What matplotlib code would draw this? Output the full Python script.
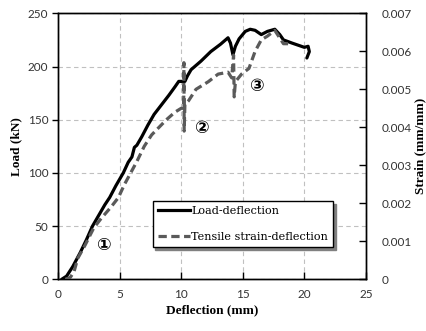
import matplotlib
matplotlib.use("Agg")
import matplotlib.pyplot as plt
from matplotlib.lines import Line2D

# Load-deflection data
load_defl = [0.3, 0.7, 1.2, 1.8, 2.3, 2.8, 3.3, 3.8, 4.2, 4.7, 5.3, 5.7, 6.0, 6.2, 6.4, 6.8,
             7.3, 7.8, 8.4, 9.0, 9.5, 9.8, 10.3, 10.5, 10.8, 11.6, 12.4, 13.2, 13.8,
             14.0, 14.2, 14.4, 14.7, 15.2, 15.6, 16.0, 16.5, 17.0, 17.6, 18.0, 18.3,
             19.0, 19.5, 20.0, 20.3, 20.4, 20.2]
load_kN = [0, 3, 12, 25, 37, 50, 60, 70, 77, 88, 100, 110, 115, 124, 126, 134,
           145, 155, 164, 173, 181, 186, 186, 191, 197, 205, 214, 221, 227,
           222, 211, 219, 226, 233, 235, 234, 230, 233, 235, 230, 225,
           222, 220, 218, 219, 214, 208]

# Tensile strain-deflection data
strain_defl = [0.6, 1.0, 1.3, 1.6, 2.2, 2.9, 3.5, 4.3, 4.9, 5.4, 5.9, 6.4, 7.0, 7.6,
               8.2, 8.8, 9.5, 10.0, 10.2, 10.22, 10.24, 10.3, 10.6, 11.2, 12.2, 13.0,
               13.8, 14.1, 14.25, 14.3, 14.4, 14.9, 15.5, 16.0, 16.5, 17.0, 17.6,
               17.9, 18.3, 18.7]
strain = [0.0, 0.00005, 0.0002, 0.00055, 0.0009, 0.00135, 0.0016, 0.0019, 0.00215,
          0.0025, 0.0028, 0.0031, 0.0035, 0.0038, 0.0040, 0.0042, 0.0044, 0.0045,
          0.0045, 0.0057, 0.0039, 0.0046, 0.0047, 0.0050, 0.0052, 0.0054, 0.00545,
          0.0053, 0.0059, 0.0048, 0.0052, 0.0054, 0.00555, 0.0060, 0.0063, 0.0064,
          0.00655, 0.0064, 0.0062, 0.0062]

x_ticks = [0, 5, 10, 15, 20, 25]
load_ticks = [0, 50, 100, 150, 200, 250]
strain_ticks = [0, 0.001, 0.002, 0.003, 0.004, 0.005, 0.006, 0.007]
strain_labels = ["0", "0.001", "0.002", "0.003", "0.004", "0.005", "0.006", "0.007"]
series_labels = ["Load-deflection", "Tensile strain-deflection"]
stage_labels = ["\u2460", "\u2461", "\u2462"]

tick_font = "Lato"
serif = "Liberation Serif"
DASH = (0, (2.6, 1.4))
GREY = "#5a5a5a"

W, H = 427, 331
fig = plt.figure(figsize=(W / 100, H / 100), dpi=100)
ax = fig.add_axes([58 / W, (H - 279.3) / H, 308 / W, 266 / H])
ax2 = ax.twinx()

ax.plot(load_defl, load_kN, color="black", lw=2.3, solid_capstyle="round", zorder=3)
ax2.plot(strain_defl, strain, color=GREY, lw=2.3, linestyle=DASH, zorder=3)

ax.set_xlim(0, 25)
ax.set_ylim(0, 250)
ax2.set_ylim(0, 0.007)
ax.set_xticks(x_ticks)
ax.set_yticks(load_ticks)
ax2.set_yticks(strain_ticks)
ax2.set_yticklabels(strain_labels)

ax.grid(True, color="#c0c0c0", linestyle=(0, (4, 3)), lw=0.8)
ax.set_axisbelow(True)

for a in (ax, ax2):
    for s in a.spines.values():
        s.set_color("black")
        s.set_linewidth(1.0)

ax.tick_params(axis="y", direction="out", length=4, width=1, labelsize=8.5, pad=3)
ax.tick_params(axis="x", direction="in", length=5, width=1, labelsize=8.5, pad=7)
ax2.tick_params(axis="y", direction="in", length=5, width=1, labelsize=8.5, pad=11)
for lab in ax.get_xticklabels() + ax.get_yticklabels() + ax2.get_yticklabels():
    lab.set_fontfamily(tick_font)
    lab.set_color("#333333")

ax.set_xlabel("Deflection (mm)", fontfamily=serif, fontweight="bold", fontsize=9.5, labelpad=3)
ax.set_ylabel("Load (kN)", fontfamily=serif, fontweight="bold", fontsize=9.5, labelpad=4)
fig.text(420 / W, 1 - 146 / H, "Strain (mm/mm)", rotation=90, ha="center", va="center",
         fontfamily=serif, fontweight="bold", fontsize=9.5)

circ_fam = ["DejaVu Sans", "Noto Sans CJK SC"]
stage_x = [3.75, 11.7, 16.2]
stage_y = [32, 142, 182]
for sx, sy, st in zip(stage_x, stage_y, stage_labels):
    ax.text(sx, sy, st, ha="center", va="center", fontsize=12.5, family=circ_fam,
            fontweight="bold")

handles = [Line2D([], [], color="black", lw=2.3),
           Line2D([], [], color=GREY, lw=2.3, linestyle=DASH)]
leg = ax2.legend(handles, series_labels,
                 loc="upper left", bbox_to_anchor=(0.307, 0.295),
                 prop={"family": "DejaVu Serif", "size": 8.1}, frameon=True, fancybox=False,
                 shadow={"color": "#808080", "alpha": 1.0},
                 edgecolor="black", framealpha=1, handlelength=2.9, handletextpad=0.1,
                 borderpad=0.45, labelspacing=1.45, borderaxespad=0)
leg.get_frame().set_linewidth(1.0)

fig.savefig("out.png", dpi=100)
